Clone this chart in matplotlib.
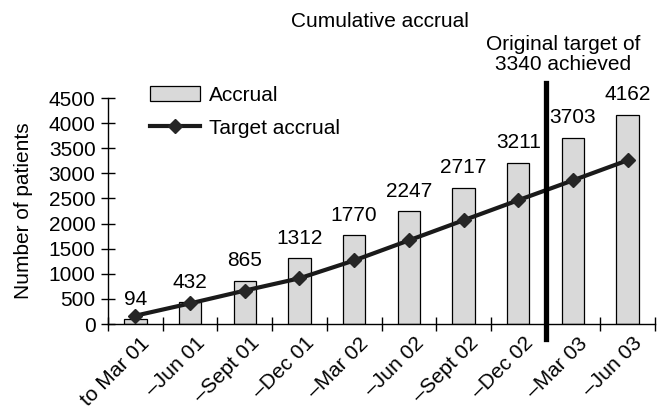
import matplotlib
matplotlib.use("Agg")
import matplotlib.pyplot as plt
import matplotlib.transforms as mtransforms
from matplotlib.patches import Patch
from matplotlib.lines import Line2D

categories = ["to Mar 01", "\u2013Jun 01", "\u2013Sept 01", "\u2013Dec 01", "\u2013Mar 02",
              "\u2013Jun 02", "\u2013Sept 02", "\u2013Dec 02", "\u2013Mar 03", "\u2013Jun 03"]
accrual = [94, 432, 865, 1312, 1770, 2247, 2717, 3211, 3703, 4162]
target = [165, 410, 665, 910, 1265, 1665, 2065, 2465, 2860, 3260]
yticks = [0, 500, 1000, 1500, 2000, 2500, 3000, 3500, 4000, 4500]
target_line_pos = 7.5

plt.rcParams['font.family'] = ['Liberation Sans', 'DejaVu Sans']
FS = 15

W, H = 669, 412
fig = plt.figure(figsize=(W / 100, H / 100), dpi=100)
left, right, bottom, top = 108, 655, 324, 98
ax = fig.add_axes([left / W, 1 - bottom / H, (right - left) / W, (bottom - top) / H])

x = list(range(len(categories)))
ax.bar(x, accrual, width=0.41, color='#d9d9d9', edgecolor='black', linewidth=0.9, zorder=2)
ax.plot(x, target, color='#1a1a1a', linewidth=3, marker='D', markersize=7,
        markerfacecolor='#262626', markeredgecolor='#262626', zorder=3)

for xi, v in zip(x, accrual):
    ax.annotate(str(v), (xi, v), xytext=(0, 10.5), textcoords='offset points',
                ha='center', va='baseline', fontsize=FS, zorder=4)

ax.axvline(target_line_pos, ymin=-0.066, ymax=1.066, color='black', linewidth=3.8,
           clip_on=False, zorder=5)

ax.set_xlim(-0.5, len(categories) - 0.5)
ax.set_ylim(0, 4500)
ax.set_yticks(yticks)
ax.set_yticklabels([str(t) for t in yticks], fontsize=FS)
ax.set_xticks([i - 0.5 for i in range(len(categories) + 1)])
ax.set_xticklabels([])
ax.set_xticks(x, minor=True)
ax.set_xticklabels(categories, minor=True, rotation=45, ha='right', va='top',
                   rotation_mode='anchor', fontsize=FS)
ax.tick_params(axis='x', which='minor', length=0, pad=7)
ax.tick_params(axis='both', which='major', direction='inout', length=10, width=1)
ax.tick_params(axis='y', pad=4)
offset = mtransforms.ScaledTranslation(5 / 100, 0, fig.dpi_scale_trans)
for lab in ax.get_xticklabels(minor=True):
    lab.set_transform(lab.get_transform() + offset)

for s in ['top', 'right']:
    ax.spines[s].set_visible(False)
for s in ['left', 'bottom']:
    ax.spines[s].set_linewidth(1)

fig.text(24 / W, 1 - 211 / H, "Number of patients", rotation=90, ha='center', va='center', fontsize=FS)
fig.text(380 / W, 1 - 27 / H, "Cumulative accrual", ha='center', va='baseline', fontsize=FS)
fig.text(563 / W, 1 - 50 / H, "Original target of", ha='center', va='baseline', fontsize=FS)
fig.text(563 / W, 1 - 70 / H, "3340 achieved", ha='center', va='baseline', fontsize=FS)

handles = [Patch(facecolor='#d9d9d9', edgecolor='black', linewidth=0.9),
           Line2D([0], [0], color='#1a1a1a', linewidth=3, marker='D', markersize=7,
                  markerfacecolor='#262626', markeredgecolor='#262626')]
fig.legend(handles, ["Accrual", "Target accrual"], loc='upper left',
           bbox_to_anchor=(150 / W, 1 - 86 / H), frameon=False, fontsize=FS,
           borderpad=0, borderaxespad=0, handlelength=2.4, handletextpad=0.45,
           labelspacing=0.65, numpoints=1)

fig.savefig("out.png", dpi=100)
